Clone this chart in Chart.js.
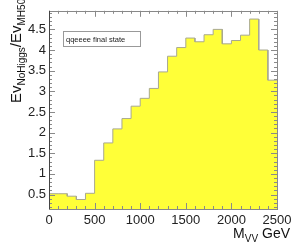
<!DOCTYPE html>
<html>
<head>
<meta charset="utf-8">
<script src="https://cdn.jsdelivr.net/npm/chart.js@4/dist/chart.umd.min.js"></script>
<style>
  html, body { margin: 0; padding: 0; background: #fff; }
  #wrap { width: 297px; height: 247px; }
</style>
</head>
<body>
<div id="wrap"><canvas id="histo"></canvas></div>
<script>
// bin edges (GeV) and ratio per bin
const binLow = [0, 100, 200, 300, 400, 500, 600, 700, 800, 900, 1000, 1100, 1200,
  1300, 1400, 1500, 1600, 1700, 1800, 1900, 2000, 2100, 2200, 2300, 2400]
const binHigh = [100, 200, 300, 400, 500, 600, 700, 800, 900, 1000, 1100, 1200, 1300,
  1400, 1500, 1600, 1700, 1800, 1900, 2000, 2100, 2200, 2300, 2400, 2500]
const ratio = [0.52, 0.52, 0.46, 0.38, 0.53, 1.33, 1.75, 2.09, 2.34, 2.64, 2.83, 3.07, 3.47,
  3.85, 4.06, 4.29, 4.2, 4.37, 4.5, 4.15, 4.23, 4.36, 4.75, 4.0, 3.27]
const yTickValues = [0.5, 1, 1.5, 2, 2.5, 3, 3.5, 4, 4.5]
const legendText = 'qqeeee final state'

const FONT = '"Liberation Sans", Arial, Helvetica, sans-serif'

// histogram outline: both edges of every bin
const histoPoints = []
binLow.forEach((lo, i) => {
  histoPoints.push({ x: lo, y: ratio[i] })
  histoPoints.push({ x: binHigh[i], y: ratio[i] })
})

// frame, tick marks, legend box and axis titles (ROOT look)
const rootDecor = {
  id: 'rootDecor',
  afterDraw(chart) {
    const { ctx, chartArea: a, scales } = chart
    const xs = scales.x, ys = scales.y
    ctx.save()
    ctx.lineWidth = 1
    ctx.strokeStyle = '#8a8a8a'
    // ticks
    ctx.beginPath()
    for (let v = 0; v <= 2500; v += 100) {
      const px = Math.round(xs.getPixelForValue(v)) + 0.5
      const len = v % 500 === 0 ? 6 : 3
      ctx.moveTo(px, a.bottom); ctx.lineTo(px, a.bottom - len)
      ctx.moveTo(px, a.top); ctx.lineTo(px, a.top + len)
    }
    for (let k = 2; k <= 49; k++) {
      const v = k / 10
      const py = Math.round(ys.getPixelForValue(v)) + 0.5
      const len = k % 5 === 0 ? 6 : 3
      ctx.moveTo(a.left, py); ctx.lineTo(a.left + len, py)
      ctx.moveTo(a.right, py); ctx.lineTo(a.right - len, py)
    }
    ctx.stroke()
    // frame
    ctx.strokeStyle = '#888'
    ctx.strokeRect(Math.round(a.left) + 0.5, Math.round(a.top) + 0.5,
      Math.round(a.right - a.left), Math.round(a.bottom - a.top))
    ctx.strokeStyle = '#444'
    ctx.beginPath()
    ctx.moveTo(Math.round(a.left) + 0.5, a.top)
    ctx.lineTo(Math.round(a.left) + 0.5, a.bottom)
    ctx.stroke()

    // legend box
    ctx.fillStyle = '#fff'
    ctx.fillRect(63.5, 31.5, 77, 15)
    ctx.strokeStyle = '#999'
    ctx.strokeRect(63.5, 31.5, 77, 15)
    ctx.fillStyle = '#222'
    ctx.font = '7.5px ' + FONT
    ctx.textBaseline = 'middle'
    ctx.textAlign = 'left'
    ctx.fillText(legendText, 66, 39.5)

    // x title  M_VV GeV, right aligned
    ctx.textBaseline = 'alphabetic'
    const xBig = '14px ' + FONT, xSmall = '10px ' + FONT
    ctx.font = xBig
    const wM = ctx.measureText('M').width
    const wG = ctx.measureText(' GeV').width
    ctx.font = xSmall
    const wS = ctx.measureText('VV').width
    let x0 = 290 - (wM + wS + wG)
    ctx.fillStyle = '#111'
    ctx.font = xBig
    ctx.fillText('M', x0, 238)
    ctx.font = xSmall
    ctx.fillText('VV', x0 + wM, 242)
    ctx.font = xBig
    ctx.fillText(' GeV', x0 + wM + wS, 238)

    // y title  Ev_NoHiggs / Ev_MH500, rotated
    const big = '15px ' + FONT, small = '10px ' + FONT
    ctx.translate(21, 103)
    ctx.rotate(-Math.PI / 2)
    const parts = [['Ev', big, 0], ['NoHiggs', small, 4], ['/Ev', big, 0], ['MH500', small, 4]]
    let pos = 0
    parts.forEach(([t, f, dy]) => {
      ctx.font = f
      ctx.fillText(t, pos, dy)
      pos += ctx.measureText(t).width
    })
    ctx.restore()
  }
}

new Chart(document.getElementById('histo'), {
  type: 'line',
  data: {
    datasets: [{
      data: histoPoints,
      borderColor: '#a8a890',
      borderWidth: 1,
      backgroundColor: '#ffff38',
      fill: 'start',
      pointRadius: 0,
      tension: 0,
    }],
  },
  options: {
    responsive: true,
    maintainAspectRatio: false,
    animation: false,
    layout: { padding: { left: 0, right: 20, top: 5, bottom: 0 } },
    plugins: { legend: { display: false }, tooltip: { enabled: false } },
    scales: {
      x: {
        type: 'linear',
        min: 0,
        max: 2500,
        grid: { display: false, drawTicks: false },
        border: { display: false },
        ticks: {
          stepSize: 500,
          padding: 4,
          maxRotation: 0,
          color: '#222',
          font: { family: FONT, size: 13 },
          callback: (v) => String(v),
        },
        afterFit: (scale) => { scale.height = 38 },
      },
      y: {
        min: 0.15,
        max: 4.95,
        grid: { display: false, drawTicks: false },
        border: { display: false },
        afterBuildTicks: (scale) => {
          scale.ticks = yTickValues.map((v) => ({ value: v }))
        },
        ticks: {
          padding: 3,
          color: '#222',
          font: { family: FONT, size: 13 },
          callback: (v) => String(v),
        },
        afterFit: (scale) => { scale.width = 49 },
      },
    },
  },
  plugins: [rootDecor],
})
</script>
</body>
</html>
